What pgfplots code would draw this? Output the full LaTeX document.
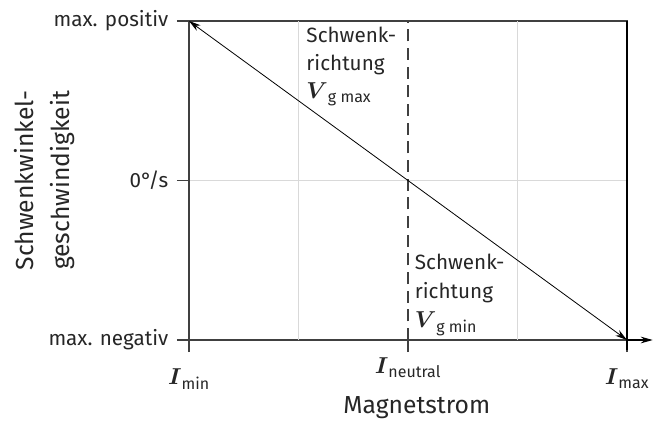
\documentclass[border=0pt]{standalone}
\usepackage{amsmath}
\usepackage{fontspec}
\setmainfont{Fira Sans}
\usepackage{pgfplots}
\pgfplotsset{compat=1.18}
\usetikzlibrary{arrows.meta}

\newcommand{\sub}[1]{\text{\fontsize{12pt}{12pt}\selectfont #1}}

\begin{document}
\begin{tikzpicture}
\begin{axis}[
    scale only axis,
    width=328.5pt, height=239.25pt,
    xmin=0, xmax=4, ymin=-1, ymax=1,
    clip=false,
    axis line style={black!75, line width=0.8pt},
    xtick={0,2,4},
    xticklabels={$\rule{0pt}{20pt}\boldsymbol{I}_{\sub{min}}$, $\boldsymbol{I}_{\sub{neutral}}$, $\rule{0pt}{20pt}\boldsymbol{I}_{\sub{max}}$},
    ytick={-1,0,1},
    yticklabels={max. negativ, 0°/s, max. positiv},
    tick pos=left,
    tick align=outside,
    major tick length=9pt,
    tick style={black!75, line width=0.8pt},
    yticklabel style={font=\fontsize{15.5pt}{18pt}\selectfont, xshift=-3pt, text=black!85},
    xticklabel style={font=\fontsize{19pt}{22pt}\selectfont, yshift=-1pt, text=black!85},
    ymajorgrids=true,
    extra x ticks={1,3},
    extra x tick labels={},
    extra x tick style={grid=major, major tick length=0pt},
    grid style={black!15, line width=0.8pt},
    xlabel={Magnetstrom},
    ylabel={Schwenkwinkel-\\geschwindigkeit},
    label style={font=\fontsize{18.5pt}{27pt}\selectfont, text=black!85},
    xlabel style={at={(axis description cs:0.52,-0.213)}, anchor=center},
    ylabel style={at={(axis description cs:-0.33,0.5)}, anchor=center, align=center},
]
\coordinate (bl) at (rel axis cs:0,0);
% dashed neutral line
\addplot[black!75, line width=0.8pt, dash pattern=on 9pt off 5pt] coordinates {(2,-1) (2,1)};
% characteristic
\addplot[black, line width=0.6pt, {Stealth[length=9pt, width=5pt]}-{Stealth[length=9pt, width=5pt]}] coordinates {(0,1) (4,-1)};
% x axis arrow extension and right border
\draw[black, line width=0.8pt, -{Stealth[length=9pt, width=5pt]}] (axis cs:4,-1) -- (axis cs:4.235,-1);
\draw[black, line width=0.8pt] (axis cs:4,1) -- (axis cs:4,-1.06);
\node[anchor=north west, align=left, text=black!85, font=\fontsize{15.5pt}{21pt}\selectfont] at (axis cs:1.03,0.99)
  {Schwenk-\\richtung\\{\fontsize{18pt}{21pt}\selectfont$\boldsymbol{V}_{\sub{g max}}$}};
\node[anchor=north west, align=left, text=black!85, font=\fontsize{15.5pt}{22pt}\selectfont] at (axis cs:2.02,-0.43)
  {Schwenk-\\richtung\\{\fontsize{18pt}{22pt}\selectfont$\boldsymbol{V}_{\sub{g min}}$}};
\end{axis}
\pgfresetboundingbox
\path (bl) ++(-141.75pt,-60.75pt) rectangle ++(498pt,315.75pt);
\end{tikzpicture}
\end{document}
